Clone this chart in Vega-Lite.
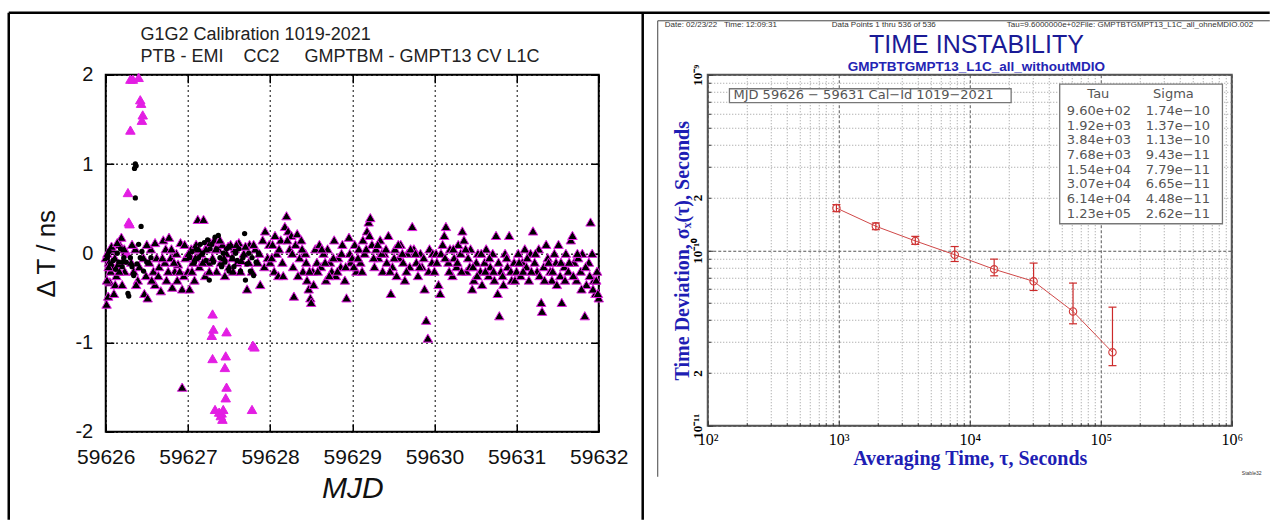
{
"$schema": "https://vega.github.io/schema/vega-lite/v6.json",
"background": "white",
"padding": {"left": 5.75, "top": 9.75, "right": 0, "bottom": 0},
"bounds": "flush",
"spacing": 109,
"config": {"font": "Liberation Sans", "axis": {"labelOverlap": false, "labelFlush": false}},
"datasets": {
"tri": [
{"mjd":59626.00,"dT":-0.05},{"mjd":59626.01,"dT":-0.57},{"mjd":59626.02,"dT":0.0},{"mjd":59626.03,"dT":-0.48},{"mjd":59626.04,"dT":-0.1},{"mjd":59626.05,"dT":-0.32},{"mjd":59626.06,"dT":-0.2},{"mjd":59626.08,"dT":0.05},{"mjd":59626.09,"dT":-0.15},{"mjd":59626.10,"dT":-0.45},{"mjd":59626.11,"dT":-0.05},{"mjd":59626.13,"dT":-0.25},{"mjd":59626.15,"dT":-0.12},{"mjd":59626.17,"dT":0.1},{"mjd":59626.19,"dT":0.18},{"mjd":59626.21,"dT":-0.08},{"mjd":59626.23,"dT":-0.2},{"mjd":59626.24,"dT":0.02},
{"mjd":59626.26,"dT":0.0,"out":1},{"mjd":59626.28,"dT":0.35,"out":1},{"mjd":59626.29,"dT":0.33,"out":1},{"mjd":59626.27,"dT":0.68,"out":1},{"mjd":59626.30,"dT":1.38,"out":1},{"mjd":59626.30,"dT":1.95,"out":1},{"mjd":59626.33,"dT":1.95,"out":1},{"mjd":59626.40,"dT":1.97,"out":1},{"mjd":59626.42,"dT":1.72,"out":1},{"mjd":59626.43,"dT":1.68,"out":1},{"mjd":59626.45,"dT":1.55,"out":1},{"mjd":59626.44,"dT":1.49,"out":1},
{"mjd":59626.31,"dT":-0.1},{"mjd":59626.34,"dT":-0.2},{"mjd":59626.36,"dT":0.05},{"mjd":59626.39,"dT":-0.3},{"mjd":59626.41,"dT":-0.15},{"mjd":59626.47,"dT":-0.45},{"mjd":59626.49,"dT":-0.25},{"mjd":59626.51,"dT":-0.5},{"mjd":59626.53,"dT":-0.1},{"mjd":59626.55,"dT":0.05},{"mjd":59626.58,"dT":-0.2},{"mjd":59626.60,"dT":-0.35},{"mjd":59626.62,"dT":-0.05},{"mjd":59626.65,"dT":-0.15},{"mjd":59626.67,"dT":-0.42},{"mjd":59626.70,"dT":0.15},{"mjd":59626.72,"dT":-0.1},{"mjd":59626.74,"dT":-0.3},{"mjd":59626.77,"dT":0.18},{"mjd":59626.79,"dT":-0.05},{"mjd":59626.81,"dT":-0.38},{"mjd":59626.84,"dT":-0.2},{"mjd":59626.86,"dT":0.0},{"mjd":59626.88,"dT":-0.12},{"mjd":59626.91,"dT":0.12},{"mjd":59626.93,"dT":-0.4},{"mjd":59626.93,"dT":-1.5},{"mjd":59626.95,"dT":-0.25},{"mjd":59626.97,"dT":-0.05},
{"mjd":59626.015,"dT":-0.3},{"mjd":59626.035,"dT":-0.15},{"mjd":59626.07,"dT":0.08},{"mjd":59626.115,"dT":-0.35},{"mjd":59626.14,"dT":0.12},{"mjd":59626.165,"dT":-0.2},{"mjd":59626.20,"dT":-0.35},{"mjd":59626.225,"dT":0.05},{"mjd":59626.32,"dT":0.1},{"mjd":59626.37,"dT":-0.35},{"mjd":59626.46,"dT":-0.05},{"mjd":59626.50,"dT":0.1},{"mjd":59626.56,"dT":-0.3},{"mjd":59626.60,"dT":0.12},{"mjd":59626.64,"dT":-0.25},{"mjd":59626.69,"dT":-0.05},{"mjd":59626.73,"dT":0.05},{"mjd":59626.76,"dT":-0.2},{"mjd":59626.80,"dT":0.05},{"mjd":59626.83,"dT":-0.1},{"mjd":59626.87,"dT":-0.3},{"mjd":59626.90,"dT":-0.2},{"mjd":59626.96,"dT":0.1},
{"mjd":59627.00,"dT":-0.2},{"mjd":59627.02,"dT":-0.4},{"mjd":59627.04,"dT":0.05},{"mjd":59627.06,"dT":-0.1},{"mjd":59627.08,"dT":-0.3},{"mjd":59627.10,"dT":0.1},{"mjd":59627.12,"dT":0.38},{"mjd":59627.14,"dT":-0.15},{"mjd":59627.16,"dT":0.0},{"mjd":59627.19,"dT":0.38},{"mjd":59627.21,"dT":-0.25},{"mjd":59627.23,"dT":0.08},{"mjd":59627.25,"dT":-0.1},{"mjd":59627.27,"dT":0.12},{"mjd":59627.30,"dT":-0.05},{"mjd":59627.32,"dT":0.15},{"mjd":59627.35,"dT":-0.2},{"mjd":59627.37,"dT":0.05},{"mjd":59627.40,"dT":-0.1},{"mjd":59627.42,"dT":0.1},{"mjd":59627.45,"dT":-0.25},{"mjd":59627.47,"dT":0.0},{"mjd":59627.50,"dT":-0.15},{"mjd":59627.52,"dT":0.1},{"mjd":59627.55,"dT":-0.2},{"mjd":59627.57,"dT":0.05},{"mjd":59627.60,"dT":-0.1},{"mjd":59627.62,"dT":0.12},{"mjd":59627.65,"dT":-0.08},{"mjd":59627.68,"dT":0.0},{"mjd":59627.72,"dT":-0.4},{"mjd":59627.75,"dT":0.1},{"mjd":59627.78,"dT":-0.2},{"mjd":59627.82,"dT":0.05},{"mjd":59627.85,"dT":-0.1},{"mjd":59627.88,"dT":-0.35},{"mjd":59627.91,"dT":0.15},{"mjd":59627.94,"dT":0.25},{"mjd":59627.97,"dT":-0.05},
{"mjd":59627.01,"dT":0.0},{"mjd":59627.05,"dT":-0.2},{"mjd":59627.09,"dT":-0.05},{"mjd":59627.13,"dT":0.05},{"mjd":59627.18,"dT":-0.1},{"mjd":59627.22,"dT":0.05},{"mjd":59627.26,"dT":-0.2},{"mjd":59627.34,"dT":0.05},{"mjd":59627.39,"dT":0.15},{"mjd":59627.44,"dT":-0.05},{"mjd":59627.49,"dT":0.08},{"mjd":59627.54,"dT":-0.05},{"mjd":59627.59,"dT":0.1},{"mjd":59627.64,"dT":-0.2},{"mjd":59627.70,"dT":0.08},{"mjd":59627.74,"dT":-0.1},{"mjd":59627.80,"dT":0.1},{"mjd":59627.87,"dT":0.0},{"mjd":59627.93,"dT":-0.15},{"mjd":59627.99,"dT":0.1},
{"mjd":59627.30,"dT":-0.68,"out":1},{"mjd":59627.29,"dT":-0.92,"out":1},{"mjd":59627.31,"dT":-0.85,"out":1},{"mjd":59627.30,"dT":-1.18,"out":1},{"mjd":59627.33,"dT":-1.75,"out":1},{"mjd":59627.38,"dT":-1.78,"out":1},{"mjd":59627.40,"dT":-1.82,"out":1},{"mjd":59627.42,"dT":-1.86,"out":1},{"mjd":59627.41,"dT":-1.79,"out":1},{"mjd":59627.43,"dT":-1.75,"out":1},{"mjd":59627.47,"dT":-0.88,"out":1},{"mjd":59627.46,"dT":-1.15,"out":1},{"mjd":59627.45,"dT":-1.28,"out":1},{"mjd":59627.47,"dT":-1.5,"out":1},{"mjd":59627.46,"dT":-1.62,"out":1},{"mjd":59627.79,"dT":-1.03,"out":1},{"mjd":59627.81,"dT":-1.05,"out":1},{"mjd":59627.78,"dT":-1.75,"out":1},
{"mjd":59628.00,"dT":-0.1},{"mjd":59628.03,"dT":0.1},{"mjd":59628.05,"dT":-0.2},{"mjd":59628.08,"dT":0.0},{"mjd":59628.10,"dT":-0.25},{"mjd":59628.13,"dT":0.15},{"mjd":59628.15,"dT":-0.1},{"mjd":59628.18,"dT":0.3},{"mjd":59628.20,"dT":0.42},{"mjd":59628.22,"dT":0.25},{"mjd":59628.24,"dT":0.05},{"mjd":59628.26,"dT":0.2},{"mjd":59628.28,"dT":-0.15},{"mjd":59628.29,"dT":-0.48},{"mjd":59628.31,"dT":0.1},{"mjd":59628.33,"dT":0.22},{"mjd":59628.36,"dT":-0.05},{"mjd":59628.38,"dT":0.15},{"mjd":59628.40,"dT":-0.2},{"mjd":59628.43,"dT":0.0},{"mjd":59628.45,"dT":-0.3},{"mjd":59628.47,"dT":-0.4},{"mjd":59628.49,"dT":-0.5},{"mjd":59628.50,"dT":-0.55},{"mjd":59628.52,"dT":-0.2},{"mjd":59628.55,"dT":0.05},{"mjd":59628.57,"dT":-0.1},{"mjd":59628.60,"dT":0.1},{"mjd":59628.62,"dT":-0.15},{"mjd":59628.65,"dT":0.0},{"mjd":59628.68,"dT":-0.3},{"mjd":59628.70,"dT":0.05},{"mjd":59628.73,"dT":-0.1},{"mjd":59628.75,"dT":-0.2},{"mjd":59628.78,"dT":0.15},{"mjd":59628.80,"dT":-0.25},{"mjd":59628.83,"dT":-0.05},{"mjd":59628.86,"dT":-0.15},{"mjd":59628.88,"dT":0.1},{"mjd":59628.91,"dT":-0.3},{"mjd":59628.93,"dT":-0.5},{"mjd":59628.96,"dT":0.18},{"mjd":59628.98,"dT":-0.1},
{"mjd":59628.02,"dT":-0.05},{"mjd":59628.06,"dT":0.2},{"mjd":59628.11,"dT":0.05},{"mjd":59628.16,"dT":-0.25},{"mjd":59628.21,"dT":0.15},{"mjd":59628.27,"dT":0.0},{"mjd":59628.34,"dT":-0.25},{"mjd":59628.39,"dT":0.05},{"mjd":59628.44,"dT":-0.1},{"mjd":59628.48,"dT":-0.2},{"mjd":59628.53,"dT":-0.35},{"mjd":59628.58,"dT":-0.2},{"mjd":59628.63,"dT":0.05},{"mjd":59628.67,"dT":-0.1},{"mjd":59628.72,"dT":-0.25},{"mjd":59628.77,"dT":-0.05},{"mjd":59628.82,"dT":-0.2},{"mjd":59628.87,"dT":0.0},{"mjd":59628.92,"dT":-0.15},{"mjd":59628.97,"dT":0.0},
{"mjd":59629.00,"dT":-0.05},{"mjd":59629.03,"dT":0.1},{"mjd":59629.05,"dT":-0.2},{"mjd":59629.08,"dT":0.05},{"mjd":59629.10,"dT":-0.1},{"mjd":59629.13,"dT":0.15},{"mjd":59629.15,"dT":0.0},{"mjd":59629.18,"dT":0.25},{"mjd":59629.20,"dT":0.35},{"mjd":59629.22,"dT":0.4},{"mjd":59629.24,"dT":0.1},{"mjd":59629.27,"dT":-0.15},{"mjd":59629.29,"dT":0.05},{"mjd":59629.32,"dT":-0.05},{"mjd":59629.34,"dT":0.15},{"mjd":59629.37,"dT":-0.2},{"mjd":59629.39,"dT":0.0},{"mjd":59629.42,"dT":-0.1},{"mjd":59629.44,"dT":0.2},{"mjd":59629.47,"dT":-0.45},{"mjd":59629.49,"dT":-0.15},{"mjd":59629.52,"dT":0.05},{"mjd":59629.54,"dT":-0.25},{"mjd":59629.57,"dT":-0.05},{"mjd":59629.59,"dT":0.1},{"mjd":59629.62,"dT":-0.1},{"mjd":59629.64,"dT":-0.3},{"mjd":59629.67,"dT":0.0},{"mjd":59629.70,"dT":-0.15},{"mjd":59629.73,"dT":0.3},{"mjd":59629.75,"dT":0.05},{"mjd":59629.78,"dT":-0.1},{"mjd":59629.80,"dT":-0.25},{"mjd":59629.83,"dT":0.0},{"mjd":59629.85,"dT":-0.15},{"mjd":59629.88,"dT":-0.4},{"mjd":59629.90,"dT":-0.75},{"mjd":59629.92,"dT":-0.95},{"mjd":59629.94,"dT":0.05},{"mjd":59629.97,"dT":-0.1},
{"mjd":59629.02,"dT":-0.15},{"mjd":59629.07,"dT":-0.05},{"mjd":59629.12,"dT":-0.2},{"mjd":59629.17,"dT":0.05},{"mjd":59629.21,"dT":0.2},{"mjd":59629.26,"dT":-0.05},{"mjd":59629.31,"dT":0.1},{"mjd":59629.36,"dT":0.0},{"mjd":59629.41,"dT":0.05},{"mjd":59629.46,"dT":-0.2},{"mjd":59629.51,"dT":-0.05},{"mjd":59629.56,"dT":0.1},{"mjd":59629.61,"dT":0.0},{"mjd":59629.66,"dT":-0.2},{"mjd":59629.71,"dT":0.05},{"mjd":59629.77,"dT":0.0},{"mjd":59629.82,"dT":-0.15},{"mjd":59629.87,"dT":-0.05},{"mjd":59629.93,"dT":-0.2},{"mjd":59629.98,"dT":0.0},
{"mjd":59630.00,"dT":-0.2},{"mjd":59630.02,"dT":0.0},{"mjd":59630.05,"dT":-0.35},{"mjd":59630.07,"dT":-0.45},{"mjd":59630.10,"dT":0.1},{"mjd":59630.12,"dT":0.2},{"mjd":59630.14,"dT":0.3},{"mjd":59630.17,"dT":-0.1},{"mjd":59630.19,"dT":0.05},{"mjd":59630.22,"dT":-0.25},{"mjd":59630.24,"dT":-0.05},{"mjd":59630.27,"dT":-0.15},{"mjd":59630.29,"dT":0.1},{"mjd":59630.32,"dT":0.0},{"mjd":59630.34,"dT":0.25},{"mjd":59630.36,"dT":0.15},{"mjd":59630.39,"dT":-0.2},{"mjd":59630.41,"dT":-0.05},{"mjd":59630.44,"dT":0.05},{"mjd":59630.46,"dT":-0.4},{"mjd":59630.48,"dT":-0.3},{"mjd":59630.51,"dT":-0.1},{"mjd":59630.53,"dT":0.0},{"mjd":59630.56,"dT":-0.2},{"mjd":59630.58,"dT":-0.35},{"mjd":59630.61,"dT":-0.1},{"mjd":59630.63,"dT":0.05},{"mjd":59630.66,"dT":-0.25},{"mjd":59630.68,"dT":-0.15},{"mjd":59630.71,"dT":0.0},{"mjd":59630.73,"dT":-0.3},{"mjd":59630.75,"dT":0.2},{"mjd":59630.77,"dT":-0.45},{"mjd":59630.79,"dT":-0.7},{"mjd":59630.81,"dT":-0.2},{"mjd":59630.84,"dT":-0.35},{"mjd":59630.86,"dT":0.0},{"mjd":59630.89,"dT":-0.15},{"mjd":59630.91,"dT":0.2},{"mjd":59630.94,"dT":-0.3},{"mjd":59630.97,"dT":-0.1},
{"mjd":59630.03,"dT":-0.1},{"mjd":59630.08,"dT":0.0},{"mjd":59630.13,"dT":-0.05},{"mjd":59630.18,"dT":-0.2},{"mjd":59630.23,"dT":0.05},{"mjd":59630.28,"dT":-0.1},{"mjd":59630.33,"dT":-0.2},{"mjd":59630.38,"dT":0.05},{"mjd":59630.43,"dT":-0.15},{"mjd":59630.47,"dT":-0.15},{"mjd":59630.52,"dT":-0.25},{"mjd":59630.57,"dT":0.0},{"mjd":59630.62,"dT":-0.2},{"mjd":59630.67,"dT":-0.05},{"mjd":59630.72,"dT":-0.2},{"mjd":59630.78,"dT":-0.1},{"mjd":59630.83,"dT":-0.25},{"mjd":59630.88,"dT":-0.05},{"mjd":59630.93,"dT":-0.2},{"mjd":59630.98,"dT":-0.3},
{"mjd":59631.00,"dT":-0.2},{"mjd":59631.02,"dT":0.0},{"mjd":59631.05,"dT":-0.25},{"mjd":59631.07,"dT":-0.1},{"mjd":59631.10,"dT":0.05},{"mjd":59631.12,"dT":-0.15},{"mjd":59631.15,"dT":-0.3},{"mjd":59631.17,"dT":0.0},{"mjd":59631.20,"dT":0.25},{"mjd":59631.22,"dT":-0.1},{"mjd":59631.25,"dT":-0.2},{"mjd":59631.27,"dT":0.05},{"mjd":59631.30,"dT":-0.55},{"mjd":59631.31,"dT":-0.65},{"mjd":59631.33,"dT":-0.15},{"mjd":59631.36,"dT":0.1},{"mjd":59631.38,"dT":-0.05},{"mjd":59631.41,"dT":-0.2},{"mjd":59631.43,"dT":-0.3},{"mjd":59631.46,"dT":0.0},{"mjd":59631.48,"dT":-0.1},{"mjd":59631.51,"dT":0.1},{"mjd":59631.53,"dT":-0.25},{"mjd":59631.55,"dT":-0.55},{"mjd":59631.58,"dT":-0.15},{"mjd":59631.60,"dT":0.0},{"mjd":59631.63,"dT":-0.2},{"mjd":59631.66,"dT":0.15},{"mjd":59631.68,"dT":0.2},{"mjd":59631.70,"dT":-0.1},{"mjd":59631.73,"dT":-0.3},{"mjd":59631.75,"dT":-0.05},{"mjd":59631.78,"dT":-0.2},{"mjd":59631.80,"dT":0.0},{"mjd":59631.83,"dT":-0.7},{"mjd":59631.85,"dT":-0.35},{"mjd":59631.88,"dT":-0.1},{"mjd":59631.90,"dT":0.35},{"mjd":59631.92,"dT":0.0},{"mjd":59631.94,"dT":-0.3},{"mjd":59631.96,"dT":-0.45},{"mjd":59631.98,"dT":-0.2},{"mjd":59632.00,"dT":-0.5},
{"mjd":59631.03,"dT":-0.1},{"mjd":59631.08,"dT":-0.2},{"mjd":59631.13,"dT":-0.05},{"mjd":59631.18,"dT":-0.2},{"mjd":59631.23,"dT":0.0},{"mjd":59631.28,"dT":-0.25},{"mjd":59631.34,"dT":-0.3},{"mjd":59631.39,"dT":-0.1},{"mjd":59631.44,"dT":-0.2},{"mjd":59631.49,"dT":-0.35},{"mjd":59631.54,"dT":-0.1},{"mjd":59631.59,"dT":-0.3},{"mjd":59631.64,"dT":-0.1},{"mjd":59631.69,"dT":-0.25},{"mjd":59631.74,"dT":0.0},{"mjd":59631.79,"dT":-0.4},{"mjd":59631.84,"dT":-0.15},{"mjd":59631.89,"dT":-0.25},{"mjd":59631.93,"dT":-0.4},{"mjd":59631.97,"dT":-0.3},{"mjd":59631.99,"dT":-0.45}
],
"dots": [
{"mjd":59626.02,"dT":-0.05},{"mjd":59626.04,"dT":0.02},{"mjd":59626.06,"dT":-0.12},{"mjd":59626.09,"dT":-0.08},{"mjd":59626.12,"dT":-0.18},{"mjd":59626.14,"dT":0.0},{"mjd":59626.16,"dT":-0.1},{"mjd":59626.18,"dT":0.05},{"mjd":59626.20,"dT":-0.15},{"mjd":59626.22,"dT":-0.05},{"mjd":59626.25,"dT":-0.1},{"mjd":59626.27,"dT":-0.45},{"mjd":59626.28,"dT":-0.48},{"mjd":59626.30,"dT":-0.05},{"mjd":59626.32,"dT":-0.15},{"mjd":59626.34,"dT":-0.25},{"mjd":59626.35,"dT":0.95},{"mjd":59626.36,"dT":1.0},{"mjd":59626.37,"dT":0.98},{"mjd":59626.36,"dT":0.62},{"mjd":59626.38,"dT":-0.12},{"mjd":59626.40,"dT":0.1},{"mjd":59626.43,"dT":0.3},{"mjd":59626.42,"dT":-0.05},{"mjd":59626.44,"dT":0.02},{"mjd":59626.46,"dT":-0.2},{"mjd":59626.50,"dT":-0.1},{"mjd":59626.55,"dT":-0.05},
{"mjd":59627.02,"dT":-0.05},{"mjd":59627.05,"dT":0.02},{"mjd":59627.08,"dT":-0.1},{"mjd":59627.10,"dT":0.05},{"mjd":59627.13,"dT":-0.05},{"mjd":59627.15,"dT":0.1},{"mjd":59627.18,"dT":0.0},{"mjd":59627.20,"dT":0.12},{"mjd":59627.22,"dT":-0.08},{"mjd":59627.24,"dT":0.15},{"mjd":59627.26,"dT":-0.3},{"mjd":59627.27,"dT":0.05},{"mjd":59627.29,"dT":0.1},{"mjd":59627.31,"dT":-0.1},{"mjd":59627.33,"dT":0.18},{"mjd":59627.35,"dT":0.05},{"mjd":59627.37,"dT":0.2},{"mjd":59627.39,"dT":-0.05},{"mjd":59627.41,"dT":-0.15},{"mjd":59627.43,"dT":0.0},{"mjd":59627.45,"dT":-0.1},{"mjd":59627.47,"dT":0.05},{"mjd":59627.50,"dT":-0.2},{"mjd":59627.52,"dT":0.08},{"mjd":59627.54,"dT":-0.05},{"mjd":59627.56,"dT":-0.15},{"mjd":59627.58,"dT":0.0},{"mjd":59627.60,"dT":-0.08},{"mjd":59627.62,"dT":0.05},{"mjd":59627.64,"dT":-0.2},{"mjd":59627.67,"dT":-0.05},{"mjd":59627.69,"dT":0.22},{"mjd":59627.70,"dT":-0.3},{"mjd":59627.72,"dT":-0.12},{"mjd":59627.74,"dT":0.0},{"mjd":59627.76,"dT":-0.2},{"mjd":59627.78,"dT":-0.05},{"mjd":59627.80,"dT":-0.25},{"mjd":59627.83,"dT":-0.1},{"mjd":59627.86,"dT":0.0}
],
"tdev": [
{"tau":960,"sigma":1.74e-10,"lo":1.66e-10,"hi":1.82e-10,"tauLabel":"9.60e+02","sigmaLabel":"1.74e−10"},
{"tau":1920,"sigma":1.37e-10,"lo":1.31e-10,"hi":1.43e-10,"tauLabel":"1.92e+03","sigmaLabel":"1.37e−10"},
{"tau":3840,"sigma":1.13e-10,"lo":1.08e-10,"hi":1.2e-10,"tauLabel":"3.84e+03","sigmaLabel":"1.13e−10"},
{"tau":7680,"sigma":9.43e-11,"lo":8.63e-11,"hi":1.05e-10,"tauLabel":"7.68e+03","sigmaLabel":"9.43e−11"},
{"tau":15360,"sigma":7.79e-11,"lo":7.15e-11,"hi":8.9e-11,"tauLabel":"1.54e+04","sigmaLabel":"7.79e−11"},
{"tau":30720,"sigma":6.65e-11,"lo":5.9e-11,"hi":8.45e-11,"tauLabel":"3.07e+04","sigmaLabel":"6.65e−11"},
{"tau":61440,"sigma":4.48e-11,"lo":3.81e-11,"hi":6.5e-11,"tauLabel":"6.14e+04","sigmaLabel":"4.48e−11"},
{"tau":122880,"sigma":2.62e-11,"lo":2.2e-11,"hi":4.74e-11,"tauLabel":"1.23e+05","sigmaLabel":"2.62e−11"}
]
},
"hconcat": [
{
"width": 493, "height": 357,
"view": {"stroke": "#000", "strokeWidth": 2},
"layer": [
{"data": {"name": "tri"},
 "mark": {"type": "point", "shape": "triangle-up", "filled": true, "size": 90, "opacity": 1, "stroke": "#e31ee3", "strokeWidth": 1},
 "encoding": {
  "x": {"field": "mjd", "type": "quantitative", "scale": {"domain": [59626, 59632], "nice": false, "zero": false},
    "axis": {"orient": "bottom", "values": [59626,59627,59628,59629,59630,59631,59632], "labelExpr": "'' + datum.value", "labelFont": "Liberation Sans", "labelFontSize": 21, "labelColor": "#111", "labelPadding": 23, "tickSize": -8, "tickColor": "#000", "tickWidth": 1.5, "domain": false, "grid": true, "gridColor": "#000", "gridDash": [1.5, 3.5], "gridWidth": 1.3, "gridOpacity": 1, "title": "MJD", "titleFont": "Liberation Sans", "titleFontSize": 30, "titleFontStyle": "italic", "titleFontWeight": "normal", "titleColor": "#111", "titlePadding": 6}},
  "y": {"field": "dT", "type": "quantitative", "scale": {"domain": [-2, 2], "nice": false},
    "axis": {"orient": "left", "values": [-2,-1,0,1,2], "labelExpr": "'' + datum.value", "labelFont": "Liberation Sans", "labelFontSize": 20, "labelColor": "#111", "labelPadding": 21, "tickSize": -8, "tickColor": "#000", "tickWidth": 1.5, "domain": false, "grid": true, "gridColor": "#000", "gridDash": [1.5, 3.5], "gridWidth": 1.3, "gridOpacity": 1, "title": "Δ T / ns", "titleFont": "Liberation Sans", "titleFontSize": 26, "titleFontWeight": "normal", "titleColor": "#111", "titlePadding": 15}},
  "fill": {"condition": {"test": "datum.out == 1", "value": "#e31ee3"}, "value": "#000"}
 }},
{"data": {"name": "dots"},
 "mark": {"type": "circle", "size": 28, "color": "#000", "opacity": 1},
 "encoding": {
  "x": {"field": "mjd", "type": "quantitative", "axis": {"orient": "top", "values": [59626,59627,59628,59629,59630,59631,59632], "labels": false, "tickSize": -8, "tickColor": "#000", "tickWidth": 1.5, "domain": false, "grid": false, "title": null}},
  "y": {"field": "dT", "type": "quantitative", "axis": {"orient": "right", "values": [-2,-1,0,1,2], "labels": false, "tickSize": -8, "tickColor": "#000", "tickWidth": 1.5, "domain": false, "grid": false, "title": null}}
 }},
{"data": {"values": [{}]}, "mark": {"type": "text", "align": "left", "baseline": "alphabetic", "font": "Liberation Sans", "fontSize": 18, "color": "#222", "text": "G1G2 Calibration 1019-2021"},
 "encoding": {"x": {"datum": 59626.4235, "type": "quantitative", "axis": null}, "y": {"datum": 2.392, "type": "quantitative", "axis": null}}},
{"data": {"values": [{}]}, "mark": {"type": "text", "align": "left", "baseline": "alphabetic", "font": "Liberation Sans", "fontSize": 18, "color": "#222", "text": "PTB - EMI\u00a0\u00a0\u00a0\u00a0CC2\u00a0\u00a0\u00a0\u00a0\u00a0GMPTBM - GMPT13 CV L1C"},
 "encoding": {"x": {"datum": 59626.4235, "type": "quantitative", "axis": null}, "y": {"datum": 2.1457, "type": "quantitative", "axis": null}}},
{"data": {"values": [{}]}, "mark": {"type": "rule", "color": "#000", "strokeWidth": 2.5},
 "encoding": {"x": {"datum": 59624.8195, "type": "quantitative", "axis": null}, "x2": {"datum": 59640.166}, "y": {"datum": 2.6947, "type": "quantitative", "axis": null}}},
{"data": {"values": [{}]}, "mark": {"type": "rule", "color": "#000", "strokeWidth": 2.5},
 "encoding": {"x": {"datum": 59624.8195, "type": "quantitative", "axis": null}, "y": {"datum": 2.6947, "type": "quantitative", "axis": null}, "y2": {"datum": -2.986}}},
{"data": {"values": [{}]}, "mark": {"type": "rule", "color": "#000", "strokeWidth": 2.5},
 "encoding": {"x": {"datum": 59632.535, "type": "quantitative", "axis": null}, "y": {"datum": 2.6947, "type": "quantitative", "axis": null}, "y2": {"datum": -2.986}}}
],
"resolve": {"axis": {"x": "independent", "y": "independent"}}
},
{
"width": 524, "height": 351,
"view": {"stroke": "#555", "strokeWidth": 2},
"layer": [
{"layer": [
 {"data": {"name": "tdev"}, "mark": {"type": "line", "color": "#d04848", "strokeWidth": 1},
  "encoding": {
   "x": {"field": "tau", "type": "quantitative", "scale": {"type": "log", "domain": [100, 1000000], "nice": false},
     "axis": {"orient": "bottom", "values": [200,300,400,500,600,700,800,900,2000,3000,4000,5000,6000,7000,8000,9000,20000,30000,40000,50000,60000,70000,80000,90000,200000,300000,400000,500000,600000,700000,800000,900000], "labels": false, "tickSize": -3, "tickColor": "#333", "domain": false, "grid": true, "gridColor": "#999", "gridDash": [1, 2], "gridWidth": 1, "gridOpacity": 1, "title": null}},
   "y": {"field": "sigma", "type": "quantitative", "scale": {"type": "log", "domain": [1e-11, 1e-9], "nice": false},
     "axis": {"orient": "left", "values": [2e-11,3e-11,4e-11,5e-11,6e-11,7e-11,8e-11,9e-11,2e-10,3e-10,4e-10,5e-10,6e-10,7e-10,8e-10,9e-10], "labelExpr": "((datum.value > 1.5e-10 && datum.value < 2.5e-10) || (datum.value > 1.5e-11 && datum.value < 2.5e-11)) ? '2' : ''", "labelAngle": 270, "labelAlign": "center", "labelBaseline": "bottom", "labelFont": "Liberation Serif", "labelFontWeight": "bold", "labelFontSize": 13, "labelColor": "#000", "labelPadding": 6, "tickSize": -3, "tickColor": "#333", "domain": false, "grid": true, "gridColor": "#999", "gridDash": [1, 2], "gridWidth": 1, "gridOpacity": 1, "title": null}}
  }},
 {"data": {"name": "tdev"}, "mark": {"type": "rule", "color": "#cc2a2a", "strokeWidth": 1.2},
  "encoding": {"x": {"field": "tau", "type": "quantitative", "axis": null}, "y": {"field": "lo", "type": "quantitative", "axis": null}, "y2": {"field": "hi"}}},
 {"data": {"name": "tdev"}, "mark": {"type": "tick", "orient": "horizontal", "color": "#cc2a2a", "size": 8, "thickness": 1.2, "opacity": 1},
  "encoding": {"x": {"field": "tau", "type": "quantitative", "axis": null}, "y": {"field": "lo", "type": "quantitative", "axis": null}}},
 {"data": {"name": "tdev"}, "mark": {"type": "tick", "orient": "horizontal", "color": "#cc2a2a", "size": 8, "thickness": 1.2, "opacity": 1},
  "encoding": {"x": {"field": "tau", "type": "quantitative", "axis": null}, "y": {"field": "hi", "type": "quantitative", "axis": null}}},
 {"data": {"name": "tdev"}, "mark": {"type": "point", "shape": "circle", "filled": false, "size": 55, "color": "#d03a3a", "strokeWidth": 1.1, "opacity": 1},
  "encoding": {
   "x": {"field": "tau", "type": "quantitative",
     "axis": {"orient": "bottom", "values": [100,1000,10000,100000,1000000], "labelExpr": "datum.value < 500 ? '10²' : datum.value < 5000 ? '10³' : datum.value < 50000 ? '10⁴' : datum.value < 500000 ? '10⁵' : '10⁶'", "labelFont": "Liberation Serif", "labelFontSize": 16, "labelColor": "#000", "labelPadding": 11, "tickSize": -5, "tickColor": "#333", "domain": false, "grid": true, "gridColor": "#555", "gridDash": [3, 2], "gridWidth": 1, "gridOpacity": 1, "title": "Averaging Time, τ, Seconds", "titleFont": "Liberation Serif", "titleFontSize": 20, "titleFontWeight": "bold", "titleColor": "#1e1eb4", "titlePadding": 1}},
   "y": {"field": "sigma", "type": "quantitative",
     "axis": {"orient": "left", "values": [1e-11, 1e-10, 1e-9], "labelExpr": "datum.value > 5e-10 ? '10⁻⁹' : datum.value > 5e-11 ? '10⁻¹⁰' : '10⁻¹¹'", "labelAngle": 270, "labelAlign": "center", "labelBaseline": "bottom", "labelFont": "Liberation Serif", "labelFontWeight": "bold", "labelFontSize": 13, "labelColor": "#000", "labelPadding": 8, "tickSize": -5, "tickColor": "#333", "domain": false, "grid": true, "gridColor": "#555", "gridDash": [3, 2], "gridWidth": 1, "gridOpacity": 1, "title": "Time Deviation, σₓ(τ), Seconds", "titleFont": "Liberation Serif", "titleFontSize": 20, "titleFontWeight": "bold", "titleColor": "#1e1eb4", "titlePadding": -1}}
  }},
 {"data": {"values": [{}]}, "mark": {"type": "text", "align": "center", "baseline": "alphabetic", "font": "Liberation Sans", "fontSize": 25, "color": "#1a1a96", "text": "TIME INSTABILITY"},
  "encoding": {"x": {"datum": 11250, "type": "quantitative", "axis": null}, "y": {"datum": 1.326e-9, "type": "quantitative", "axis": null}}},
 {"data": {"values": [{}]}, "mark": {"type": "text", "align": "center", "baseline": "alphabetic", "font": "Liberation Sans", "fontSize": 13.5, "fontWeight": "bold", "color": "#2424b4", "text": "GMPTBTGMPT13_L1C_all_withoutMDIO"},
  "encoding": {"x": {"datum": 11240, "type": "quantitative", "axis": null}, "y": {"datum": 1.054e-9, "type": "quantitative", "axis": null}}},
 {"data": {"values": [{}]}, "mark": {"type": "text", "align": "left", "baseline": "middle", "font": "Liberation Sans", "fontSize": 8, "color": "#333", "text": "Date: 02/23/22\u00a0\u00a0\u00a0Time: 12:09:31"},
  "encoding": {"x": {"datum": 46.97, "type": "quantitative", "axis": null}, "y": {"datum": 1.914e-9, "type": "quantitative", "axis": null}}},
 {"data": {"values": [{}]}, "mark": {"type": "text", "align": "left", "baseline": "middle", "font": "Liberation Sans", "fontSize": 8, "color": "#333", "text": "Data Points 1 thru 536 of 536"},
  "encoding": {"x": {"datum": 884, "type": "quantitative", "axis": null}, "y": {"datum": 1.914e-9, "type": "quantitative", "axis": null}}},
 {"data": {"values": [{}]}, "mark": {"type": "text", "align": "left", "baseline": "middle", "font": "Liberation Sans", "fontSize": 8, "color": "#333", "text": "Tau=9.6000000e+02File: GMPTBTGMPT13_L1C_all_ohneMDIO.002"},
  "encoding": {"x": {"datum": 19160, "type": "quantitative", "axis": null}, "y": {"datum": 1.914e-9, "type": "quantitative", "axis": null}}},
 {"data": {"values": [{}]}, "mark": {"type": "rect", "fill": "white", "stroke": "#777", "strokeWidth": 1.3},
  "encoding": {"x": {"datum": 146.4, "type": "quantitative", "axis": null}, "x2": {"datum": 20700}, "y": {"datum": 8.32e-10, "type": "quantitative", "axis": null}, "y2": {"datum": 6.93e-10}}},
 {"data": {"values": [{}]}, "mark": {"type": "text", "align": "left", "baseline": "middle", "font": "DejaVu Sans", "fontSize": 13, "color": "#555", "text": "MJD 59626 − 59631 Cal−Id 1019−2021"},
  "encoding": {"x": {"datum": 157, "type": "quantitative", "axis": null}, "y": {"datum": 7.62e-10, "type": "quantitative", "axis": null}}},
 {"data": {"values": [{}]}, "mark": {"type": "rect", "fill": "white", "stroke": "#777", "strokeWidth": 1.3},
  "encoding": {"x": {"datum": 48600, "type": "quantitative", "axis": null}, "x2": {"datum": 849000}, "y": {"datum": 8.85e-10, "type": "quantitative", "axis": null}, "y2": {"datum": 1.416e-10}}},
 {"data": {"values": [{}]}, "mark": {"type": "text", "align": "center", "baseline": "middle", "font": "DejaVu Sans", "fontSize": 13, "color": "#555", "text": "Tau"},
  "encoding": {"x": {"datum": 95900, "type": "quantitative", "axis": null}, "y": {"datum": 7.8e-10, "type": "quantitative", "axis": null}}},
 {"data": {"values": [{}]}, "mark": {"type": "text", "align": "center", "baseline": "middle", "font": "DejaVu Sans", "fontSize": 13, "color": "#555", "text": "Sigma"},
  "encoding": {"x": {"datum": 359000, "type": "quantitative", "axis": null}, "y": {"datum": 7.8e-10, "type": "quantitative", "axis": null}}},
 {"data": {"values": [{}]}, "mark": {"type": "rule", "color": "#444", "strokeWidth": 1},
  "encoding": {"x": {"datum": 41.52, "type": "quantitative", "axis": null}, "x2": {"datum": 1951000}, "y": {"datum": 2.03e-9, "type": "quantitative", "axis": null}}},
 {"data": {"values": [{}]}, "mark": {"type": "rule", "color": "#444", "strokeWidth": 1},
  "encoding": {"x": {"datum": 41.52, "type": "quantitative", "axis": null}, "y": {"datum": 2.03e-9, "type": "quantitative", "axis": null}, "y2": {"datum": 5.12e-12}}},
 {"data": {"values": [{}]}, "mark": {"type": "text", "align": "center", "baseline": "middle", "font": "Liberation Sans", "fontSize": 5, "color": "#333", "text": "Stable32"},
  "encoding": {"x": {"datum": 1421000, "type": "quantitative", "axis": null}, "y": {"datum": 5.4e-12, "type": "quantitative", "axis": null}}}
 ],
 "resolve": {"axis": {"x": "independent", "y": "independent"}}
},
{"data": {"name": "tdev"},
 "encoding": {"y": {"field": "tau", "type": "quantitative", "scale": {"type": "log", "domain": [172.8, 2755000000], "reverse": true, "nice": false}, "axis": null}},
 "layer": [
  {"mark": {"type": "text", "align": "left", "baseline": "middle", "font": "DejaVu Sans", "fontSize": 13, "color": "#555"},
   "encoding": {"x": {"datum": 55000, "type": "quantitative", "axis": null}, "text": {"field": "tauLabel"}}},
  {"mark": {"type": "text", "align": "left", "baseline": "middle", "font": "DejaVu Sans", "fontSize": 13, "color": "#555"},
   "encoding": {"x": {"datum": 220500, "type": "quantitative", "axis": null}, "text": {"field": "sigmaLabel"}}}
 ]}
],
"resolve": {"scale": {"y": "independent"}, "axis": {"x": "independent", "y": "independent"}}
}
]
}
